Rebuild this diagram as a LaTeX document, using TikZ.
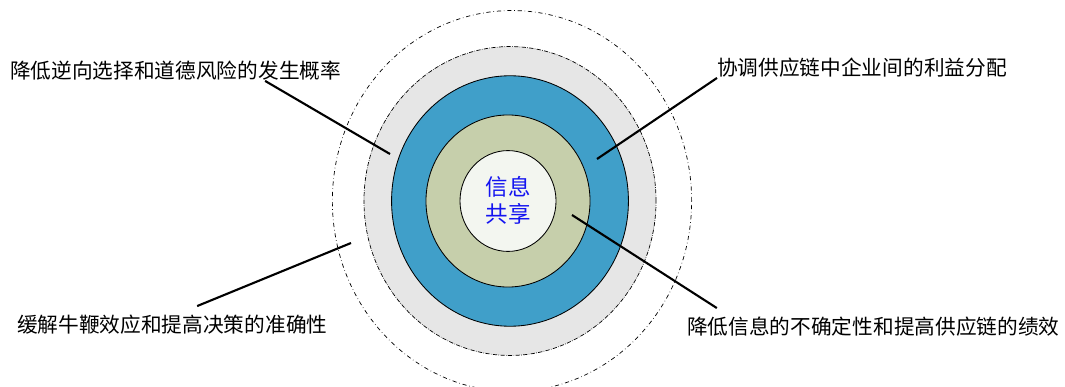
\documentclass[tikz,border=0pt]{standalone}
\usepackage{fontspec}
\setmainfont{Noto Sans CJK SC}
\usetikzlibrary{calc}
\definecolor{RingGray}{RGB}{230,230,230}
\definecolor{RingBlue}{RGB}{64,159,201}
\definecolor{RingGreen}{RGB}{198,207,171}
\definecolor{CoreWhite}{RGB}{243,246,240}
\definecolor{CoreText}{RGB}{20,20,240}

\begin{document}
\begin{tikzpicture}[x=.025cm,y=-.025cm,
    ring/.style={draw=black,line width=.6pt},
    lead/.style={line width=1.5pt},
    note/.style={anchor=west,inner sep=0pt,font=\fontsize{14.7}{17}\selectfont}]
  \useasboundingbox (0,0) rectangle (1065,387);
  \coordinate (c) at (510,201);
  % rings, outside in
  \draw[dash dot,line width=.5pt] (512,201) ellipse [x radius=4.49cm,y radius=4.76cm];
  \draw[fill=RingGray,densely dash dot,line width=.5pt] (c) ellipse [x radius=3.65cm,y radius=3.86cm];
  \draw[ring,fill=RingBlue] (c) ellipse [x radius=2.96cm,y radius=3.13cm];
  \draw[ring,fill=RingGreen] (508,201) ellipse [x radius=2.05cm,y radius=2.15cm];
  \draw[ring,fill=CoreWhite] (508,201) ellipse [x radius=1.2cm,y radius=1.26cm];
  \node[align=center,text=CoreText,font=\fontsize{16}{19.2}\selectfont] (core) at (508,200) {信息\\共享};
  % labels
  \node[note] (t1) at (10,71) {降低逆向选择和道德风险的发生概率};
  \node[note] (t2) at (717,68) {协调供应链中企业间的利益分配};
  \node[note] (t3) at (17,325) {缓解牛鞭效应和提高决策的准确性};
  \node[note] (t4) at (687,327) {降低信息的不确定性和提高供应链的绩效};
  \coordinate (e1) at (390,154);
  \coordinate (e2) at (597,159);
  \coordinate (e3) at (351,243);
  \coordinate (e4) at (572,215);
  \draw[lead] ($(t1.south west)!.77!(t1.south east)$) -- (e1);
  \draw[lead] (t2.south west) -- (e2);
  \draw[lead] ($(t3.north west)!.58!(t3.north east)+(0,-9)$) -- (e3);
  \draw[lead] ($(t4.north west)!.08!(t4.north east)+(0,-9)$) -- (e4);
\end{tikzpicture}
\end{document}
